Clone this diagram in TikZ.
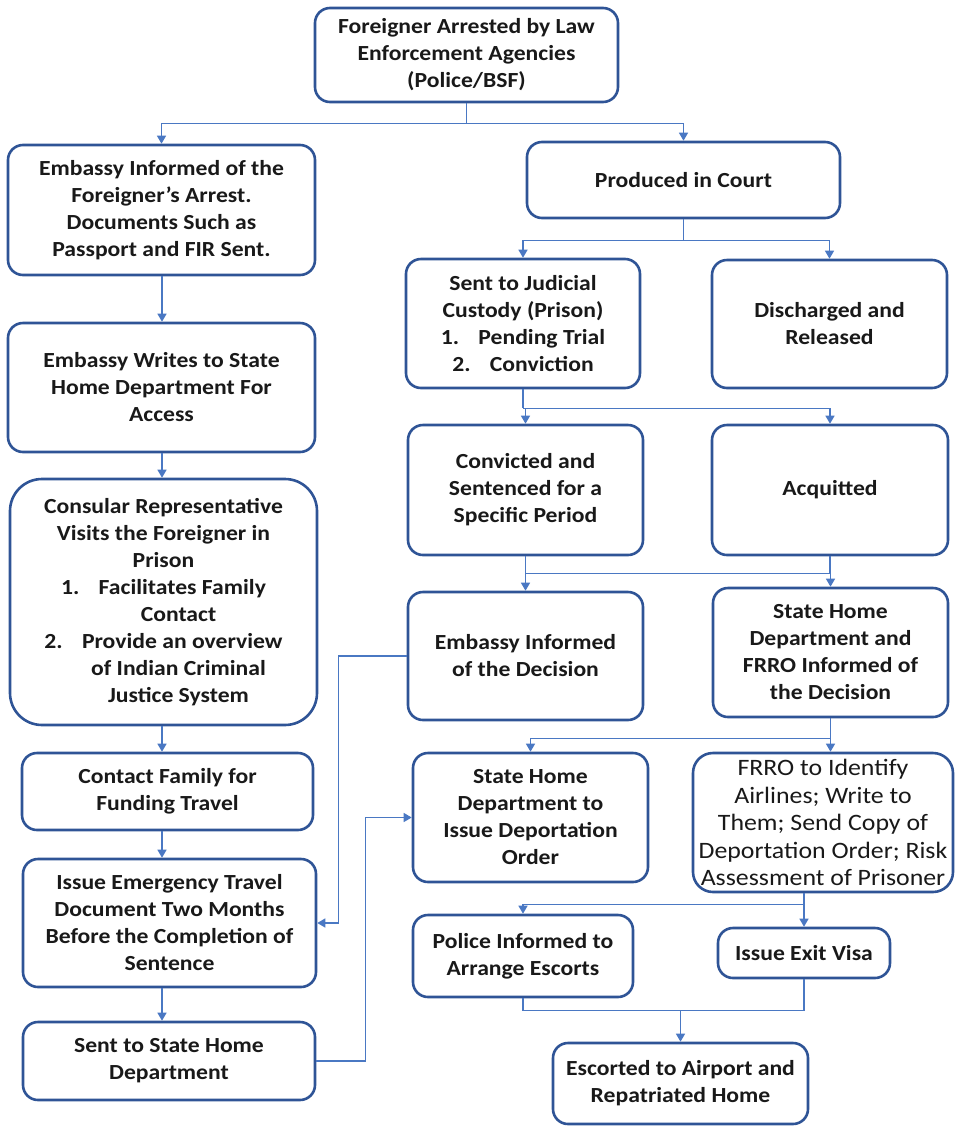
\documentclass[tikz,border=0pt]{standalone}
\usepackage{fontspec}
\setmainfont[FakeStretch=1.1]{Carlito}
\usetikzlibrary{arrows.meta}
\definecolor{boxc}{RGB}{47,84,150}
\definecolor{linec}{RGB}{74,120,195}
\definecolor{txtc}{RGB}{25,25,25}
\tikzset{
  box/.style={draw=boxc,line width=2.6pt,rounded corners=15pt,fill=white,align=center,
    text=txtc,inner sep=0pt,font=\bfseries\fontsize{21.5}{27}\selectfont},
  conn/.style={draw=linec,line width=1.4pt},
  arr/.style={conn,-{Triangle[width=9pt,length=8pt]}}
}
\newcommand\bx[7][]{%
  \pgfmathsetmacro\bw{#5-#3}\pgfmathsetmacro\bh{#6-#4}%
  \pgfmathsetmacro\bxc{(#3+#5)/2}\pgfmathsetmacro\byc{(#4+#6)/2}%
  \node[box,#1,minimum width=\bw pt,minimum height=\bh pt] (#2) at (\bxc,\byc) {#7};}
\begin{document}
\begin{tikzpicture}[x=1pt,y=-1pt]
\useasboundingbox (0,0) rectangle (956,1128);
% right / top column
\bx{top}{315}{8}{618}{102}{Foreigner Arrested by Law\\Enforcement Agencies\\(Police/BSF)}
\bx{court}{527}{142}{840}{218}{Produced in Court}
\bx{jud}{406}{259}{640}{388}{Sent to Judicial\\Custody (Prison)\\1.\hspace{0.9em}Pending Trial\\2.\hspace{0.9em}Conviction}
\bx{dis}{712}{260}{947}{388}{Discharged and\\Released}
\bx{conv}{408}{425}{643}{555}{Convicted and\\Sentenced for a\\Specific Period}
\bx{acq}{712}{425}{948}{555}{Acquitted}
\bx{embdec}{408}{592}{643}{720}{Embassy Informed\\of the Decision}
\bx{shfrro}{713}{588}{948}{717}{State Home\\Department and\\FRRO Informed of\\the Decision}
\bx{deport}{413}{753}{648}{882}{State Home\\Department to\\Issue Deportation\\Order}
\bx[font=\fontsize{23.5}{27.5}\selectfont,rounded corners=20pt]{frro}{693}{753}{953}{892}{FRRO to Identify\\Airlines; Write to\\Them; Send Copy of\\Deportation Order; Risk\\Assessment of Prisoner}
\bx{police}{413}{915}{633}{997}{Police Informed to\\Arrange Escorts}
\bx{exit}{718}{928}{890}{978}{Issue Exit Visa}
\bx{escort}{553}{1043}{808}{1124}{Escorted to Airport and\\Repatriated Home}
% left column
\bx{emb1}{8}{145}{315}{275}{Embassy Informed of the\\Foreigner’s Arrest.\\Documents Such as\\Passport and FIR Sent.}
\bx{emb2}{8}{323}{315}{452}{Embassy Writes to State\\Home Department For\\Access}
\bx[rounded corners=32pt]{cons}{10}{479}{317}{725}{Consular Representative\\Visits the Foreigner in\\Prison\\1.\hspace{0.9em}Facilitates Family\\\hspace*{30pt}Contact\\2.\hspace{0.9em}Provide an overview\\\hspace*{30pt}of Indian Criminal\\\hspace*{30pt}Justice System}
\bx{fam}{22}{753}{313}{830}{Contact Family for\\Funding Travel}
\bx{etd}{23}{859}{316}{987}{Issue Emergency Travel\\Document Two Months\\Before the Completion of\\Sentence}
\bx{sent}{23}{1022}{315}{1100}{Sent to State Home\\Department}
% connectors
\coordinate (lc) at (162,0);
\draw[conn] (top.south) -- ++(0,20) coordinate (j1);
\draw[arr] (j1) -| (emb1.north);
\draw[arr] (j1) -| (court.north);
\draw[conn] (court.south) -- ++(0,21) coordinate (j2);
\draw[arr] (j2) -| (jud.north);
\draw[arr] (j2) -| (dis.north);
\draw[conn] (jud.south) -- ++(0,19) coordinate (j3);
\draw[arr] (j3) -| (conv.north);
\draw[arr] (j3) -| (acq.north);
\draw[conn] (conv.south) -- ++(0,17) coordinate (j4);
\draw[conn] (acq.south) -- (acq.south |- j4);
\draw[arr] (j4) -| (embdec.north);
\draw[arr] (j4) -| (shfrro.north);
\draw[conn] (shfrro.south) -- ++(0,20) coordinate (j5);
\draw[arr] (j5) -| (deport.north);
\draw[arr] (j5) -- (j5 |- frro.north);
\draw[conn] (exit.north |- frro.south) -- ++(0,11) coordinate (j6);
\draw[arr] (j6) -- (exit.north);
\draw[arr] (j6) -| (police.north);
\draw[conn] (police.south) -- ++(0,12) coordinate (j7) -| (exit.south);
\draw[arr] (escort.north |- j7) -- (escort.north);
\draw[arr] (lc |- emb1.south) -- (lc |- emb2.north);
\draw[arr] (lc |- emb2.south) -- (lc |- cons.north);
\draw[arr] (lc |- cons.south) -- (lc |- fam.north);
\draw[arr] (lc |- fam.south) -- (lc |- etd.north);
\draw[arr] (lc |- etd.south) -- (lc |- sent.north);
\draw[arr] (embdec.west) -- ++(-68,0) |- (etd.east);
\draw[arr] (sent.east) -- ++(49,0) |- (deport.west);
\end{tikzpicture}
\end{document}
